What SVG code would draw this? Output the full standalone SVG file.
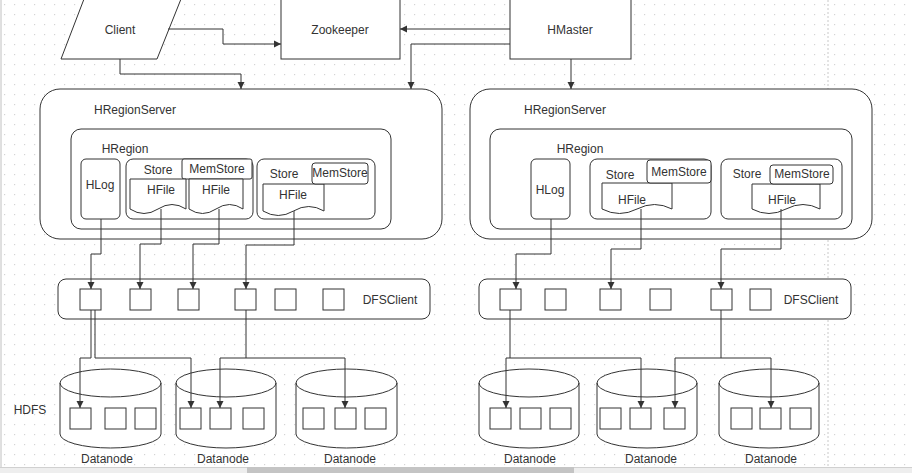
<svg xmlns="http://www.w3.org/2000/svg" width="912" height="473" viewBox="0 0 912 473">
<defs>
<pattern id="grid" width="10" height="10" patternUnits="userSpaceOnUse">
<rect x="4" y="4" width="1.2" height="1.2" fill="#d4d4d4"/>
</pattern>
<marker id="arr" markerWidth="8" markerHeight="8" refX="7" refY="4" orient="auto" markerUnits="userSpaceOnUse">
<path d="M0,0.5 L7,4 L0,7.5 Z" fill="#333"/>
</marker>
<style>
.s{fill:#fff;stroke:#333;stroke-width:1}
.t{font-family:"Liberation Sans",Arial,sans-serif;font-size:12px;fill:#333;text-anchor:middle}
.c{fill:none;stroke:#333;stroke-width:1}
.ca{fill:none;stroke:#333;stroke-width:1;marker-end:url(#arr)}
</style>
</defs>
<rect width="912" height="473" fill="#fff"/>
<rect width="912" height="473" fill="url(#grid)"/>
<line x1="828" y1="0" x2="828" y2="467" stroke="#c8c8c8" stroke-dasharray="2,2"/>
<line x1="1" y1="0" x2="1" y2="467" stroke="#c0c0c0"/>

<g id="client"><polygon class="s" points="84,-1 181,-1 157,59 61,59"/><text class="t" x="120" y="34">Client</text></g>
<g id="zookeeper"><rect class="s" x="281" y="-1" width="119" height="60"/><text class="t" x="340" y="34">Zookeeper</text></g>
<g id="hmaster"><rect class="s" x="510" y="-1" width="121" height="60"/><text class="t" x="570" y="34">HMaster</text></g>

<g id="hregionserver-left">
<rect class="s" x="40" y="89" width="402" height="150" rx="20"/>
<text class="t" x="135" y="114">HRegionServer</text>
<g id="hregion-left">
<rect class="s" x="71" y="129" width="320" height="100" rx="10"/>
<text class="t" x="125" y="153">HRegion</text>
<g id="hlog-left"><rect class="s" x="81" y="159" width="39" height="60" rx="5"/><text class="t" x="100" y="189">HLog</text></g>
<g id="store-left-1">
<rect class="s" x="126" y="159" width="127" height="60" rx="7"/>
<text class="t" x="158" y="174">Store</text>
<rect class="s" x="182" y="159" width="70" height="20" rx="2"/>
<text class="t" x="217" y="173">MemStore</text>
<path class="s" d="M130,179 H186 V209 Q172,200 158,209 Q144,218 130,209 Z"/>
<text class="t" x="161" y="194">HFile</text>
<path class="s" d="M189,179 H243 V209 Q229.5,200 216,209 Q202.5,218 189,209 Z"/>
<text class="t" x="216" y="194">HFile</text>
</g>
<g id="store-left-2">
<rect class="s" x="257" y="159" width="118" height="60" rx="7"/>
<text class="t" x="284" y="178">Store</text>
<path class="s" d="M263,184 H324 V211 Q308.75,202 293.5,211 Q278.25,220 263,211 Z"/>
<rect class="s" x="312" y="163" width="56" height="21" rx="3"/>
<text class="t" x="340" y="177">MemStore</text>
<text class="t" x="293" y="199">HFile</text>
</g>
</g>
</g>

<g id="hregionserver-right">
<rect class="s" x="470" y="89" width="402" height="150" rx="20"/>
<text class="t" x="565" y="114">HRegionServer</text>
<g id="hregion-right">
<rect class="s" x="490" y="129" width="362" height="100" rx="10"/>
<text class="t" x="580" y="153">HRegion</text>
<g id="hlog-right"><rect class="s" x="531" y="159" width="39" height="60" rx="5"/><text class="t" x="550" y="194">HLog</text></g>
<g id="store-right-1">
<rect class="s" x="590" y="159" width="121" height="60" rx="7"/>
<text class="t" x="620" y="179">Store</text>
<path class="s" d="M602,183 H672 V209 Q654.5,200 637,209 Q619.5,218 602,209 Z"/>
<rect class="s" x="647" y="160" width="64" height="23" rx="3"/>
<text class="t" x="679" y="176">MemStore</text>
<text class="t" x="632" y="204">HFile</text>
</g>
<g id="store-right-2">
<rect class="s" x="721" y="159" width="121" height="60" rx="7"/>
<text class="t" x="747" y="178">Store</text>
<path class="s" d="M752,184 H820 V209 Q803,200 786,209 Q769,218 752,209 Z"/>
<rect class="s" x="770" y="165" width="63" height="19" rx="3"/>
<text class="t" x="802" y="178">MemStore</text>
<text class="t" x="782" y="204">HFile</text>
</g>
</g>
</g>

<g id="dfsclient-left">
<rect class="s" x="58" y="279" width="372" height="40" rx="8"/>
<rect class="s" x="80" y="289" width="21" height="21"/>
<rect class="s" x="130" y="289" width="21" height="21"/>
<rect class="s" x="178" y="289" width="21" height="21"/>
<rect class="s" x="235" y="289" width="21" height="21"/>
<rect class="s" x="275" y="289" width="21" height="21"/>
<rect class="s" x="323" y="289" width="21" height="21"/>
<text class="t" x="390" y="304">DFSClient</text>
</g>
<g id="dfsclient-right">
<rect class="s" x="479" y="279" width="372" height="40" rx="8"/>
<rect class="s" x="500" y="289" width="21" height="21"/>
<rect class="s" x="545" y="289" width="21" height="21"/>
<rect class="s" x="600" y="289" width="21" height="21"/>
<rect class="s" x="650" y="289" width="21" height="21"/>
<rect class="s" x="711" y="289" width="21" height="21"/>
<rect class="s" x="750" y="289" width="21" height="21"/>
<text class="t" x="811" y="304">DFSClient</text>
</g>

<text class="t" x="30" y="414">HDFS</text>

<g id="datanode-l1">
<path class="s" d="M60,383 A50.5,14 0 0 1 161,383 V434 A50.5,14 0 0 1 60,434 Z"/>
<path class="c" d="M60,383 A50.5,14 0 0 0 161,383"/>
<rect class="s" x="70" y="408" width="21" height="21"/><rect class="s" x="105" y="408" width="21" height="21"/><rect class="s" x="135" y="408" width="21" height="21"/>
<text class="t" x="107" y="463">Datanode</text>
</g>
<g id="datanode-l2">
<path class="s" d="M176,383 A50,14 0 0 1 276,383 V434 A50,14 0 0 1 176,434 Z"/>
<path class="c" d="M176,383 A50,14 0 0 0 276,383"/>
<rect class="s" x="180" y="408" width="21" height="21"/><rect class="s" x="210" y="408" width="21" height="21"/><rect class="s" x="243" y="408" width="21" height="21"/>
<text class="t" x="223" y="463">Datanode</text>
</g>
<g id="datanode-l3">
<path class="s" d="M296,383 A50.5,14 0 0 1 397,383 V434 A50.5,14 0 0 1 296,434 Z"/>
<path class="c" d="M296,383 A50.5,14 0 0 0 397,383"/>
<rect class="s" x="303" y="408" width="21" height="21"/><rect class="s" x="335" y="408" width="21" height="21"/><rect class="s" x="365" y="408" width="21" height="21"/>
<text class="t" x="350" y="463">Datanode</text>
</g>
<g id="datanode-r1">
<path class="s" d="M479,383 A50,14 0 0 1 579,383 V434 A50,14 0 0 1 479,434 Z"/>
<path class="c" d="M479,383 A50,14 0 0 0 579,383"/>
<rect class="s" x="490" y="408" width="21" height="21"/><rect class="s" x="520" y="408" width="21" height="21"/><rect class="s" x="550" y="408" width="21" height="21"/>
<text class="t" x="530" y="463">Datanode</text>
</g>
<g id="datanode-r2">
<path class="s" d="M597,383 A50,14 0 0 1 697,383 V434 A50,14 0 0 1 597,434 Z"/>
<path class="c" d="M597,383 A50,14 0 0 0 697,383"/>
<rect class="s" x="600" y="408" width="21" height="21"/><rect class="s" x="630" y="408" width="21" height="21"/><rect class="s" x="664" y="408" width="21" height="21"/>
<text class="t" x="651" y="463">Datanode</text>
</g>
<g id="datanode-r3">
<path class="s" d="M719,383 A50,14 0 0 1 819,383 V434 A50,14 0 0 1 719,434 Z"/>
<path class="c" d="M719,383 A50,14 0 0 0 819,383"/>
<rect class="s" x="731" y="408" width="21" height="21"/><rect class="s" x="760" y="408" width="21" height="21"/><rect class="s" x="790" y="408" width="21" height="21"/>
<text class="t" x="771" y="463">Datanode</text>
</g>

<g id="connectors">
<path class="ca" d="M168,29 H223 V44 H281"/>
<path class="ca" d="M120,59 V74 H241 V89"/>
<path class="ca" d="M510,29 H400"/>
<path class="ca" d="M510,44 H411 V89"/>
<path class="ca" d="M571,59 V89"/>
<path class="ca" d="M101,219 V254 H91 V289"/>
<path class="ca" d="M161,209 V244 H140 V289"/>
<path class="ca" d="M219,209 V244 H193 V289"/>
<path class="ca" d="M294,211 V245 H246 V289"/>
<path class="ca" d="M91,310 V358 H80 V408"/>
<path class="ca" d="M95,310 V358 H191 V408"/>
<path class="ca" d="M246,310 V358 H220 V408"/>
<path class="ca" d="M246,358 H345 V408"/>
<path class="ca" d="M551,219 V254 H516 V289"/>
<path class="ca" d="M641,209 V249 H611 V289"/>
<path class="ca" d="M781,209 V249 H721 V289"/>
<path class="ca" d="M510,310 V358 H506 V408"/>
<path class="ca" d="M510,358 H641 V408"/>
<path class="ca" d="M721,310 V358 H675 V408"/>
<path class="ca" d="M721,358 H771 V408"/>
</g>

<rect x="0" y="467" width="912" height="6" fill="#eeeeee"/>
<line x1="0" y1="467.5" x2="912" y2="467.5" stroke="#d0d0d0"/>
<rect x="247" y="467" width="327" height="6" fill="#c4c4c4"/>
</svg>
